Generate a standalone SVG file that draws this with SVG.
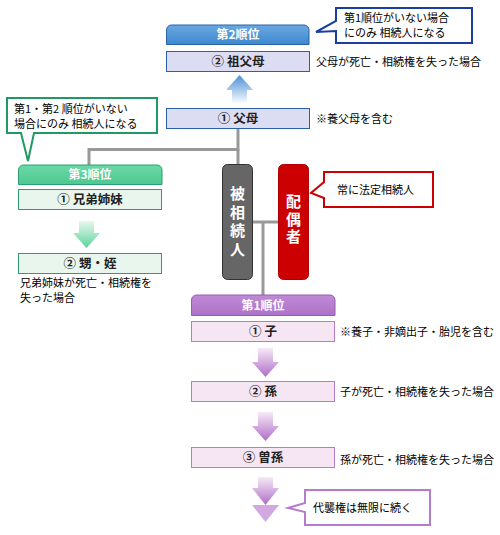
<svg xmlns="http://www.w3.org/2000/svg" width="500" height="535" viewBox="0 0 500 535">
<defs>
<style>
text{font-family:"Noto Sans CJK JP","Noto Sans CJK SC",sans-serif;}
.t{font-size:11px;fill:#000;}
.hd{font-size:12px;font-weight:bold;fill:#fff;text-anchor:middle;}
.lb{font-size:12.5px;font-weight:bold;fill:#222;text-anchor:middle;}
.vt{font-size:15px;font-weight:bold;fill:#fff;writing-mode:vertical-rl;}
.ln{stroke:#999;stroke-width:3;fill:none;}
</style>
<linearGradient id="gBlue" x1="0" y1="0" x2="0" y2="1"><stop offset="0" stop-color="#6aa8e0"/><stop offset="1" stop-color="#3d88d0"/></linearGradient>
<linearGradient id="gGreen" x1="0" y1="0" x2="0" y2="1"><stop offset="0" stop-color="#6cd8a8"/><stop offset="1" stop-color="#4ec890"/></linearGradient>
<linearGradient id="gPurp" x1="0" y1="0" x2="0" y2="1"><stop offset="0" stop-color="#c08ad6"/><stop offset="1" stop-color="#ad72c8"/></linearGradient>
<linearGradient id="aUp" x1="0" y1="0" x2="0" y2="1"><stop offset="0" stop-color="#4a8fd6"/><stop offset="1" stop-color="#ffffff"/></linearGradient>
<linearGradient id="aGreen" x1="0" y1="0" x2="0" y2="1"><stop offset="0" stop-color="#e8f8ef"/><stop offset="1" stop-color="#5cd39a"/></linearGradient>
<linearGradient id="aPurp" x1="0" y1="0" x2="0" y2="1"><stop offset="0" stop-color="#f6eaf6"/><stop offset="1" stop-color="#b06dc9"/></linearGradient>
</defs>

<g id="connectors">
<polyline class="ln" points="238,128 238,149.5 89,149.5 89,165"/>
<line class="ln" x1="238" y1="149.5" x2="238" y2="165"/>
<line class="ln" x1="253" y1="222" x2="278" y2="222"/>
<line class="ln" x1="263" y1="222" x2="263" y2="295"/>
</g>

<g id="rank2">
<path d="M166.5,44.5 V30 a5,5 0 0 1 5,-5 H304 a5,5 0 0 1 5,5 V44.5 Z" fill="url(#gBlue)" stroke="#2a62a8" stroke-width="1"/>
<text class="hd" x="238" y="39">第2順位</text>
</g>
<g id="grandparents">
<rect x="166.5" y="51.5" width="143" height="20" fill="#dcdcf2" stroke="#2a62a8"/>
<text class="lb" x="238" y="66">② 祖父母</text>
<text class="t" x="316" y="66">父母が死亡・相続権を失った場合</text>
</g>
<g id="arrow-up">
<path d="M239.5,75 L253,90 H247 V104 H232 V90 H226 Z" fill="url(#aUp)"/>
</g>
<g id="parents">
<rect x="166.5" y="108.5" width="143" height="20" fill="#dcdcf2" stroke="#2a62a8"/>
<text class="lb" x="238" y="123">① 父母</text>
<text class="t" x="316" y="123">※養父母を含む</text>
</g>
<g id="callout-blue">
<path d="M336,8 H472 V43 H336 V31 L316,32 L336,21 Z" fill="#fff" stroke="#1a3fa0" stroke-width="2"/>
<text class="t" x="344" y="22">第1順位がいない場合</text>
<text class="t" x="344" y="37">にのみ 相続人になる</text>
</g>

<g id="callout-green">
<path d="M7,98 H157 V133 H34 L28,161 L21,133 H7 Z" fill="#fff" stroke="#1f9a64" stroke-width="2"/>
<text class="t" x="14" y="113">第1・第2 順位がいない</text>
<text class="t" x="14" y="128">場合にのみ 相続人になる</text>
</g>
<g id="rank3">
<path d="M18.5,184.5 V170 a5,5 0 0 1 5,-5 H157 a5,5 0 0 1 5,5 V184.5 Z" fill="url(#gGreen)" stroke="#2aa070" stroke-width="1"/>
<text class="hd" x="90" y="179">第3順位</text>
</g>
<g id="siblings">
<rect x="18.5" y="189.5" width="143" height="20" fill="#e8f6ee" stroke="#2aa070"/>
<text class="lb" x="90" y="204">① 兄弟姉妹</text>
</g>
<g id="arrow-green">
<path d="M79,221 H94 V233 H100 L86.5,248 L73,233 H79 Z" fill="url(#aGreen)"/>
</g>
<g id="nephews">
<rect x="18.5" y="253.5" width="143" height="20" fill="#e8f6ee" stroke="#2aa070"/>
<text class="lb" x="90" y="268">② 甥・姪</text>
<text class="t" x="20" y="287">兄弟姉妹が死亡・相続権を</text>
<text class="t" x="20" y="302">失った場合</text>
</g>

<g id="decedent">
<rect x="222.5" y="164.5" width="30" height="115" rx="5" fill="#666" stroke="#333"/>
<text class="vt" x="237.5" y="186" letter-spacing="3.5">被相続人</text>
</g>
<g id="spouse">
<rect x="278.5" y="164.5" width="30" height="115" rx="5" fill="#cc0000" stroke="#b00000"/>
<text class="vt" x="293.5" y="194" letter-spacing="2.5">配偶者</text>
</g>
<g id="callout-red">
<path d="M324,172 H433 V207 H324 V198 L311,193 L324,182 Z" fill="#fff" stroke="#cc0000" stroke-width="2"/>
<text class="t" x="337" y="194">常に法定相続人</text>
</g>

<g id="rank1">
<path d="M191.5,315.5 V300 a5,5 0 0 1 5,-5 H330 a5,5 0 0 1 5,5 V315.5 Z" fill="url(#gPurp)" stroke="#9a5ab8" stroke-width="1"/>
<text class="hd" x="263" y="310">第1順位</text>
</g>
<g id="child">
<rect x="191.5" y="321.5" width="143" height="20" fill="#f6e6f3" stroke="#b57ccc"/>
<text class="lb" x="263" y="336">① 子</text>
<text class="t" x="340" y="336">※養子・非嫡出子・胎児を含む</text>
</g>
<g id="arrow-p1">
<path d="M258,348 H273 V362 H279 L265.5,377 L252,362 H258 Z" fill="url(#aPurp)"/>
</g>
<g id="grandchild">
<rect x="191.5" y="381.5" width="143" height="20" fill="#f6e6f3" stroke="#b57ccc"/>
<text class="lb" x="263" y="396">② 孫</text>
<text class="t" x="340" y="396">子が死亡・相続権を失った場合</text>
</g>
<g id="arrow-p2">
<path d="M258,412 H273 V426 H279 L265.5,441 L252,426 H258 Z" fill="url(#aPurp)"/>
</g>
<g id="great-grandchild">
<rect x="191.5" y="447.5" width="143" height="20" fill="#f6e6f3" stroke="#b57ccc"/>
<text class="lb" x="263" y="462">③ 曽孫</text>
<text class="t" x="340" y="464">孫が死亡・相続権を失った場合</text>
</g>
<g id="arrow-p3">
<path d="M258,477 H273 V488 H279 L265.5,505 L252,488 H258 Z" fill="url(#aPurp)"/>
<path d="M252,505 H279 L265.5,522 Z" fill="#d2a8e0"/>
</g>
<g id="callout-purple">
<path d="M305,490 H430 V525 H305 V512 L288,508 L305,503 Z" fill="#fff" stroke="#b57ccc" stroke-width="2"/>
<text class="t" x="313" y="512">代襲権は無限に続く</text>
</g>
</svg>
